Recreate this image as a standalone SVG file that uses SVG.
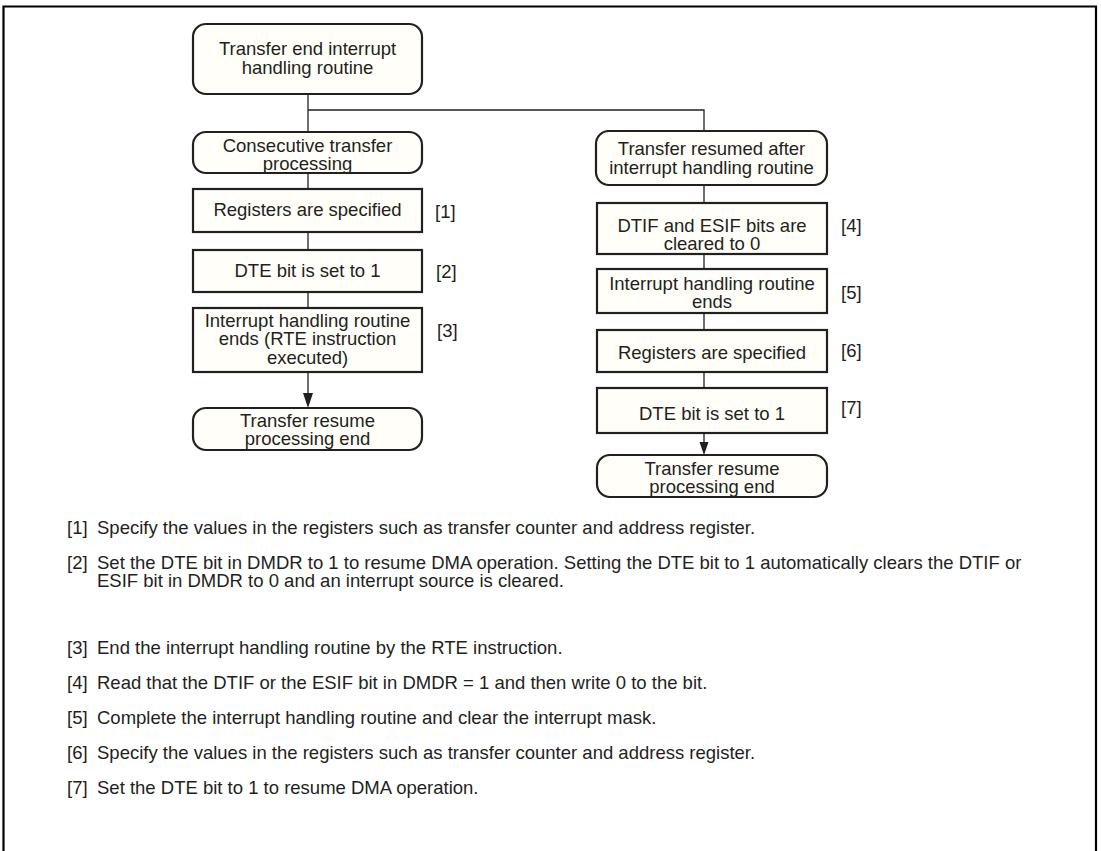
<svg xmlns="http://www.w3.org/2000/svg" width="1101" height="851" viewBox="0 0 1101 851">
<defs>
<style>
text{font-family:"Liberation Sans",Arial,sans-serif;font-size:18.5px;fill:#231f20}
.c{text-anchor:middle}
.box{fill:#fffef9;stroke:#231f20;stroke-width:2.2}
.ln{stroke:#231f20;stroke-width:1.3;fill:none}
.frame{stroke:#000;stroke-width:2.2;fill:none}
</style>
</defs>
<rect width="1101" height="851" fill="#fff"/>
<path class="frame" d="M3.5,851 V6.5 H1096 V851"/>

<g id="connectors">
<path class="ln" d="M308,94 V132"/>
<path class="ln" d="M308,110 H704 V131"/>
<path class="ln" d="M308,173 V189"/>
<path class="ln" d="M308,232 V250"/>
<path class="ln" d="M308,292 V308"/>
<path class="ln" d="M308,372 V393"/>
<path d="M303,393 L313,393 L308,408 Z" fill="#231f20"/>
<path class="ln" d="M704,185 V203"/>
<path class="ln" d="M704,254 V269"/>
<path class="ln" d="M704,313 V330"/>
<path class="ln" d="M704,372 V388"/>
<path class="ln" d="M704,433 V442"/>
<path d="M699.5,442 L708.5,442 L704,455 Z" fill="#231f20"/>
</g>

<g id="n_start">
<rect class="box" x="193" y="24" width="229" height="70" rx="13"/>
<text class="c" x="307.5" y="55">Transfer end interrupt</text>
<text class="c" x="307.5" y="74">handling routine</text>
</g>

<g id="n_consec">
<rect class="box" x="193" y="132" width="229" height="41" rx="13"/>
<text class="c" x="307.5" y="151.5">Consecutive transfer</text>
<text class="c" x="307.5" y="169.5">processing</text>
</g>

<g id="n_reg1">
<rect class="box" x="193" y="189" width="229" height="43"/>
<text class="c" x="307.5" y="215.5">Registers are specified</text>
<text x="435" y="218">[1]</text>
</g>

<g id="n_dte1">
<rect class="box" x="193" y="250" width="229" height="42"/>
<text class="c" x="307.5" y="276.5">DTE bit is set to 1</text>
<text x="436" y="277.5">[2]</text>
</g>

<g id="n_rte">
<rect class="box" x="193" y="308" width="229" height="64"/>
<text class="c" x="307.5" y="326.5">Interrupt handling routine</text>
<text class="c" x="307.5" y="345">ends (RTE instruction</text>
<text class="c" x="307.5" y="363.5">executed)</text>
<text x="437" y="336.5">[3]</text>
</g>

<g id="n_end1">
<rect class="box" x="193" y="408" width="229" height="42" rx="13"/>
<text class="c" x="307.5" y="426.5">Transfer resume</text>
<text class="c" x="307.5" y="444.5">processing end</text>
</g>

<g id="n_resumed">
<rect class="box" x="596" y="131" width="231" height="54" rx="13"/>
<text class="c" x="711.5" y="154.5">Transfer resumed after</text>
<text class="c" x="711.5" y="173.5">interrupt handling routine</text>
</g>

<g id="n_dtif">
<rect class="box" x="597" y="203" width="230" height="51"/>
<text class="c" x="712" y="231.5">DTIF and ESIF bits are</text>
<text class="c" x="712" y="249.5">cleared to 0</text>
<text x="841" y="231.5">[4]</text>
</g>

<g id="n_ends">
<rect class="box" x="597" y="269" width="230" height="44"/>
<text class="c" x="712" y="289.5">Interrupt handling routine</text>
<text class="c" x="712" y="308">ends</text>
<text x="841" y="298.5">[5]</text>
</g>

<g id="n_reg2">
<rect class="box" x="597" y="330" width="230" height="42"/>
<text class="c" x="712" y="358.5">Registers are specified</text>
<text x="841" y="356.5">[6]</text>
</g>

<g id="n_dte2">
<rect class="box" x="597" y="388" width="230" height="45"/>
<text class="c" x="712" y="419.5">DTE bit is set to 1</text>
<text x="841" y="413.5">[7]</text>
</g>

<g id="n_end2">
<rect class="box" x="597" y="455" width="230" height="42" rx="13"/>
<text class="c" x="712" y="474.5">Transfer resume</text>
<text class="c" x="712" y="493">processing end</text>
</g>

<g id="notes">
<text x="67" y="533.5">[1]</text>
<text x="97" y="533.5">Specify the values in the registers such as transfer counter and address register.</text>
<text x="67" y="568.5">[2]</text>
<text x="97" y="568.5">Set the DTE bit in DMDR to 1 to resume DMA operation. Setting the DTE bit to 1 automatically clears the DTIF or</text>
<text x="97" y="587">ESIF bit in DMDR to 0 and an interrupt source is cleared.</text>
<text x="67" y="653.5">[3]</text>
<text x="97" y="653.5">End the interrupt handling routine by the RTE instruction.</text>
<text x="67" y="688.5">[4]</text>
<text x="97" y="688.5">Read that the DTIF or the ESIF bit in DMDR = 1 and then write 0 to the bit.</text>
<text x="67" y="723.5">[5]</text>
<text x="97" y="723.5">Complete the interrupt handling routine and clear the interrupt mask.</text>
<text x="67" y="758.5">[6]</text>
<text x="97" y="758.5">Specify the values in the registers such as transfer counter and address register.</text>
<text x="67" y="793.5">[7]</text>
<text x="97" y="793.5">Set the DTE bit to 1 to resume DMA operation.</text>
</g>
</svg>
